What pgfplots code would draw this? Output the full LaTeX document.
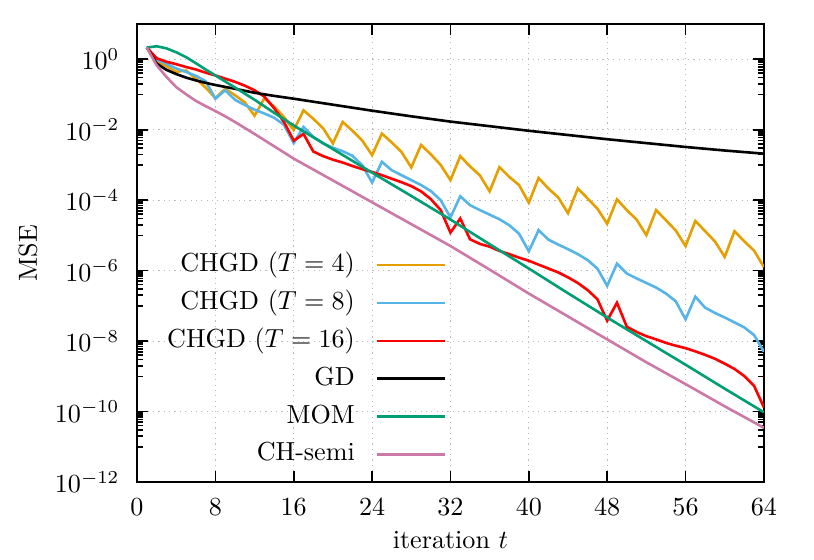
\documentclass[border=0pt]{standalone}
\usepackage{pgfplots}
\pgfplotsset{compat=1.18}
\definecolor{cOrange}{HTML}{E69F00}
\definecolor{cBlue}{HTML}{56B4E9}
\definecolor{cRed}{HTML}{FF0000}
\definecolor{cGreen}{HTML}{009E73}
\definecolor{cPink}{HTML}{CC79A7}
\begin{document}
\begin{tikzpicture}
\begin{axis}[
  scale only axis, width=240.2pt, height=175.5pt,
  xmin=0, xmax=64, ymode=log, ymin=1e-12, ymax=10,
  xtick={0,8,...,64},
  ytick={1e-12,1e-10,1e-8,1e-6,1e-4,1e-2,1},
  minor ytick={1e-11,2e-11,3e-11,4e-11,5e-11,6e-11,7e-11,8e-11,9e-11,
    1e-9,2e-9,3e-9,4e-9,5e-9,6e-9,7e-9,8e-9,9e-9,
    1e-7,2e-7,3e-7,4e-7,5e-7,6e-7,7e-7,8e-7,9e-7,
    1e-5,2e-5,3e-5,4e-5,5e-5,6e-5,7e-5,8e-5,9e-5,
    1e-3,2e-3,3e-3,4e-3,5e-3,6e-3,7e-3,8e-3,9e-3,
    1e-1,2e-1,3e-1,4e-1,5e-1,6e-1,7e-1,8e-1,9e-1},
  tick align=inside, major tick length=4.3pt, minor tick length=2.3pt,
  every tick/.style={black, line width=0.6pt},
  grid=major, major grid style={dash pattern=on 0.45pt off 1.6pt, gray!55, line width=0.45pt},
  axis line style={line width=0.8pt},
  xticklabel style={yshift=-3pt},
  yticklabel style={xshift=-3.2pt},
  xlabel={iteration $t$}, ylabel={MSE},
  every axis x label/.style={at={(axis description cs:0.5,-0.1266)}, anchor=center},
  every axis y label/.style={at={(axis description cs:-0.174,0.5)}, rotate=90, anchor=center},
  legend cell align=right, legend plot pos=right,
  legend image code/.code={\draw[#1] (0pt,0pt) -- (26.2pt,0pt);},
  legend style={at={(axis description cs:0.494,0.502)}, anchor=north east,
    draw=none, fill=none, inner sep=0pt, outer sep=0pt,
    row sep=4.5pt, column sep=8pt,
    nodes={inner sep=0pt, text height=7.5pt, text depth=2.5pt}},
]
\addplot[cOrange, line width=1pt] coordinates {(1,2.14)(2,0.89)(3,0.63)(4,0.44)(5,0.479)(6,0.282)(7,0.158)(8,0.079)(9,0.145)(10,0.0955)(11,0.060)(12,0.025)(13,0.078)(14,0.045)(15,0.023)(16,0.0098)(17,0.0355)(18,0.0204)(19,0.0110)(20,0.00407)(21,0.0166)(22,0.0093)(23,0.0049)(24,0.0019)(25,0.00776)(26,0.00437)(27,0.00234)(28,8.5e-4)(29,3.7e-3)(30,2.0e-3)(31,1.0e-3)(32,3.7e-4)(33,1.78e-3)(34,9.1e-4)(35,5.1e-4)(36,1.78e-4)(37,8.7e-4)(38,4.6e-4)(39,2.7e-4)(40,8.5e-5)(41,4.27e-4)(42,2.14e-4)(43,1.2e-4)(44,4.27e-5)(45,2.14e-4)(46,1.12e-4)(47,5.75e-5)(48,2.14e-5)(49,1.05e-4)(50,5.25e-5)(51,2.82e-5)(52,1.02e-5)(53,5.25e-5)(54,2.69e-5)(55,1.38e-5)(56,5.0e-6)(57,2.57e-5)(58,1.32e-5)(59,6.76e-6)(60,2.45e-6)(61,1.32e-5)(62,6.76e-6)(63,3.7e-6)(64,1.26e-6)};
\addlegendentry{CHGD ($T=4$)}
\addplot[cBlue, line width=1pt] coordinates {(1,2.14)(2,1.0)(3,0.741)(4,0.550)(5,0.437)(6,0.339)(7,0.240)(8,0.0759)(9,0.132)(10,0.0708)(11,0.0501)(12,0.0372)(13,0.0288)(14,0.0219)(15,0.0138)(16,0.00417)(17,0.0120)(18,0.00631)(19,0.00407)(20,0.00309)(21,0.00245)(22,0.00182)(23,9.77e-4)(24,3.16e-4)(25,1.23e-3)(26,7.08e-4)(27,5.13e-4)(28,3.72e-4)(29,2.69e-4)(30,1.82e-4)(31,1.0e-4)(32,3.24e-5)(33,1.29e-4)(34,7.24e-5)(35,5.25e-5)(36,3.89e-5)(37,2.88e-5)(38,1.95e-5)(39,1.12e-5)(40,3.55e-6)(41,1.41e-5)(42,7.59e-6)(43,5.50e-6)(44,4.07e-6)(45,2.95e-6)(46,2.0e-6)(47,1.15e-6)(48,3.72e-7)(49,1.58e-6)(50,8.32e-7)(51,6.03e-7)(52,4.47e-7)(53,3.31e-7)(54,2.24e-7)(55,1.35e-7)(56,4.17e-8)(57,1.82e-7)(58,8.91e-8)(59,6.31e-8)(60,4.68e-8)(61,3.39e-8)(62,2.45e-8)(63,1.48e-8)(64,5.01e-9)};
\addlegendentry{CHGD ($T=8$)}
\addplot[cRed, line width=1pt] coordinates {(1,2.14)(2,1.07)(3,0.851)(4,0.724)(5,0.603)(6,0.513)(7,0.417)(8,0.347)(9,0.282)(10,0.229)(11,0.178)(12,0.132)(13,0.0871)(14,0.0407)(15,0.0166)(16,0.0049)(17,0.00759)(18,0.0024)(19,0.00178)(20,0.00141)(21,0.00117)(22,9.33e-4)(23,7.59e-4)(24,6.31e-4)(25,5.13e-4)(26,4.07e-4)(27,3.24e-4)(28,2.51e-4)(29,1.78e-4)(30,1.07e-4)(31,5.25e-5)(32,1.20e-5)(33,3.02e-5)(34,7.76e-6)(35,5.75e-6)(36,4.79e-6)(37,3.63e-6)(38,2.95e-6)(39,2.34e-6)(40,1.91e-6)(41,1.48e-6)(42,1.15e-6)(43,8.91e-7)(44,6.46e-7)(45,4.47e-7)(46,2.82e-7)(47,1.55e-7)(48,3.80e-8)(49,1.23e-7)(50,2.57e-8)(51,1.82e-8)(52,1.38e-8)(53,1.12e-8)(54,8.91e-9)(55,7.41e-9)(56,6.31e-9)(57,5.13e-9)(58,4.07e-9)(59,3.16e-9)(60,2.29e-9)(61,1.62e-9)(62,1.02e-9)(63,5.37e-10)(64,1.32e-10)};
\addlegendentry{CHGD ($T=16$)}
\addplot[black, line width=1pt] coordinates {(1,2.14)(2,0.759)(3,0.501)(4,0.380)(5,0.302)(6,0.251)(7,0.214)(8,0.186)(10,0.145)(12,0.112)(14,0.0912)(16,0.0759)(20,0.0513)(24,0.0347)(28,0.0240)(32,0.0170)(36,0.0126)(40,0.00933)(44,0.00708)(48,0.00537)(52,0.00417)(56,0.00324)(60,0.00257)(64,0.00209)};
\addlegendentry{GD}
\addplot[cGreen, line width=1pt] coordinates {(1,2.14)(2,2.34)(3,2.04)(4,1.58)(5,1.15)(6,0.776)(7,0.513)(8,0.347)(9,0.234)(10,0.158)(12,0.0708)(14,0.0302)(16,0.0132)(20,0.00282)(24,6.03e-4)(28,1.32e-4)(32,2.82e-5)(36,5.62e-6)(40,1.15e-6)(44,2.29e-7)(48,4.68e-8)(52,1.0e-8)(56,2.14e-9)(60,4.47e-10)(64,9.55e-11)};
\addlegendentry{MOM}
\addplot[cPink, line width=1pt] coordinates {(1,2.14)(2,0.676)(3,0.316)(4,0.162)(5,0.102)(6,0.0661)(7,0.0468)(8,0.0339)(9,0.0240)(10,0.0166)(12,0.00759)(14,0.00339)(16,0.00151)(20,3.63e-4)(24,8.71e-5)(28,2.09e-5)(32,5.01e-6)(36,1.07e-6)(40,2.24e-7)(44,5.01e-8)(48,1.12e-8)(52,2.51e-9)(56,6.03e-10)(60,1.41e-10)(64,3.47e-11)};
\addlegendentry{CH-semi}
\end{axis}
\pgfresetboundingbox
\path ([xshift=-52.5pt,yshift=-29.5pt]current axis.south west) rectangle ([xshift=19.2pt,yshift=9.2pt]current axis.north east);
\end{tikzpicture}
\end{document}
